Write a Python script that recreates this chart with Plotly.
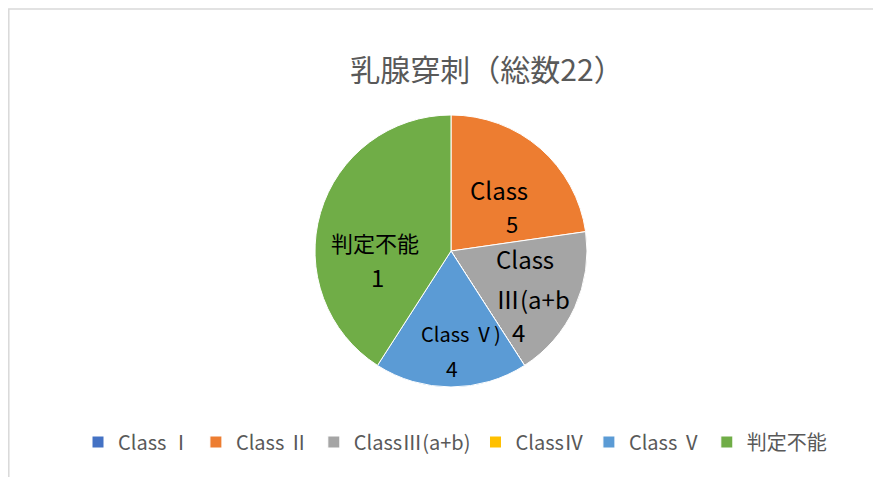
import plotly.graph_objects as go

W, H = 881, 477
OFF = 8  # page body margin added by the browser

title_text = "乳腺穿刺（総数22）"
categories = ["Class Ⅰ", "Class Ⅱ", "ClassⅢ(a+b)", "ClassⅣ", "Class Ⅴ", "判定不能"]
values = [0, 5, 4, 0, 4, 9]
colors = ["#4472C4", "#ED7D31", "#A5A5A5", "#FFC000", "#5B9BD5", "#70AD47"]

# in-slice label lines as shown (clipped in the original)
label_lines = [
    ("Class", 499, 189, 24), ("5", 512, 223, 22),
    ("Class", 525, 258, 24), ("Ⅲ(a+b", 533, 298, 24), ("4", 518, 331, 24),
    ("Class Ⅴ)", 461, 333, 20), ("4", 452, 368, 21),
    ("判定不能", 375, 242, 22), ("1", 377, 276, 24),
]

FONT = "Noto Sans CJK JP"
cx, cy, r = 451 - OFF, 251 - OFF, 136


def px(x):
    return (x - OFF) / W


def py(y):
    return 1 - (y - OFF) / H


fig = go.Figure(go.Pie(
    labels=categories,
    values=values,
    marker=dict(colors=colors, line=dict(color="white", width=1)),
    sort=False,
    direction="clockwise",
    rotation=0,
    textinfo="none",
    hoverinfo="label+value",
    domain=dict(x=[(cx - r) / W, (cx + r) / W], y=[1 - (cy + r) / H, 1 - (cy - r) / H]),
))

annotations = []
for txt, x, y, s in label_lines:
    annotations.append(dict(
        text=txt, x=px(x), y=py(y), xref="paper", yref="paper",
        showarrow=False, font=dict(family=FONT, size=s, color="#000000"),
        xanchor="center", yanchor="middle",
    ))

fig.update_layout(
    width=W, height=H,
    margin=dict(l=0, r=0, t=0, b=0),
    paper_bgcolor="white",
    plot_bgcolor="white",
    title=dict(text=title_text, x=px(487), y=py(70), xanchor="center", yanchor="middle",
               font=dict(family=FONT, size=30, color="#595959")),
    legend=dict(orientation="h", x=px(455), xanchor="center", y=py(442), yanchor="middle",
                font=dict(family=FONT, size=20, color="#595959"),
                itemclick=False, traceorder="normal"),
    annotations=annotations,
    shapes=[dict(type="rect", xref="paper", yref="paper",
                 x0=0.8 / W, x1=1.02, y0=-0.05, y1=1 - 1 / H,
                 line=dict(color="#D9D9D9", width=1.5))],
)

fig.write_html("out.html")
